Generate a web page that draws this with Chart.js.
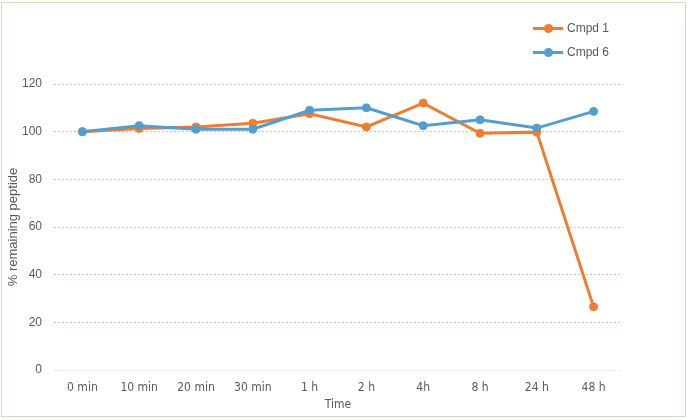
<!DOCTYPE html>
<html>
<head>
<meta charset="utf-8">
<script src="https://cdn.jsdelivr.net/npm/chart.js@4.4.1/dist/chart.umd.min.js"></script>
<style>
  body { margin: 0; background: #fff; }
  #wrap { position: relative; width: 688px; height: 420px; }
  #frame { position: absolute; left: 1px; top: 2px; width: 683px; height: 413px; border: 1px solid #c9e3bb; pointer-events: none; }
  #legend { position: absolute; left: 533px; top: 16px; font: 12px "Liberation Sans", Arial, sans-serif; color: #595959; }
  .item { display: flex; align-items: center; height: 24px; }
  .sw { position: relative; width: 30px; height: 3px; margin-right: 4px; }
  .sw i { position: absolute; left: 11px; top: -3px; width: 9px; height: 9px; border-radius: 50%; }
</style>
</head>
<body>
<div id="wrap">
  <canvas id="chart" width="688" height="420"></canvas>
  <div id="frame"></div>
  <div id="legend"></div>
</div>
<script>
// data
const timePoints = ["0 min", "10 min", "20 min", "30 min", "1 h", "2 h", "4h", "8 h", "24 h", "48 h"];
const cmpd1 = [100, 101.3, 102, 103.5, 107.5, 102, 112, 99.3, 99.8, 26.5];
const cmpd6 = [100, 102.5, 101, 101, 109, 110, 102.5, 105, 101.5, 108.5];
const yTicks = [0, 20, 40, 60, 80, 100, 120];

const orange = "#ed7d31";
const blue = "#559dcb";

const datasets = [
  { label: "Cmpd 1", data: cmpd1, borderColor: orange, backgroundColor: orange, order: 1 },
  { label: "Cmpd 6", data: cmpd6, borderColor: blue, backgroundColor: blue, order: 0 },
].map(d => Object.assign(d, { borderWidth: 3, pointRadius: 4, pointBorderWidth: 1, pointHoverRadius: 4, tension: 0 }));

const ctx = document.getElementById("chart").getContext("2d");
const chart = new Chart(ctx, {
  type: "line",
  data: { labels: timePoints, datasets: datasets },
  options: {
    responsive: false,
    animation: false,
    layout: { padding: { left: 6, right: 66, top: 84, bottom: 8 } },
    plugins: { legend: { display: false }, tooltip: { enabled: false } },
    scales: {
      x: {
        offset: true,
        grid: { display: false, offset: true },
        border: { display: false },
        ticks: { color: "#595959", font: { family: "DejaVu Sans Condensed", size: 12 }, padding: 3, maxRotation: 0 },
        title: { display: true, text: "Time", color: "#595959", font: { family: "DejaVu Sans Condensed", size: 12 }, padding: 0 },
        afterFit: s => { s.height = 42; }
      },
      y: {
        min: 0, max: 120,
        afterBuildTicks: s => { s.ticks = yTicks.map(v => ({ value: v })); },
        grid: {
          color: ctx => ctx.tick && ctx.tick.value === 0 ? "#f2dcc6" : "#b5d8a0",
          drawTicks: false,
          lineWidth: 1
        },
        border: { display: false, dash: [2, 2] },
        ticks: { color: "#595959", font: { family: "Liberation Sans", size: 12 }, padding: 12 },
        title: { display: true, text: "% remaining peptide", color: "#595959", font: { family: "Liberation Sans", size: 13 }, padding: 0 },
        afterFit: s => { s.width = 48; }
      }
    }
  }
});

// legend built from the datasets
const legend = document.getElementById("legend");
datasets.forEach(d => {
  const row = document.createElement("div");
  row.className = "item";
  row.innerHTML = '<span class="sw" style="background:' + d.borderColor + '"><i style="background:' + d.borderColor + '"></i></span>' + d.label;
  legend.appendChild(row);
});
</script>
</body>
</html>
